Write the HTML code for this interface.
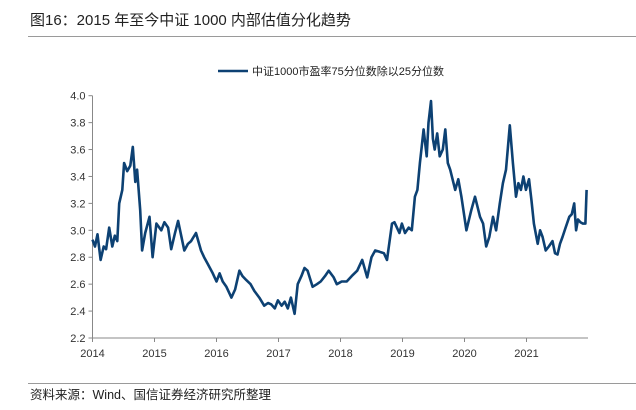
<!DOCTYPE html>
<html><head><meta charset="utf-8">
<style>
html,body{margin:0;padding:0;background:#fff;}
body{width:636px;height:410px;position:relative;overflow:hidden;font-family:"Liberation Sans","Noto Sans CJK SC",sans-serif;}
.title{position:absolute;left:30px;top:9px;font-size:15px;color:#222;}
.hr{position:absolute;left:28px;right:0;height:1px;background:#9a9a9a;}
.src{position:absolute;left:30px;top:384px;font-size:12.5px;color:#222;}
</style></head><body>
<div class="title">图16：2015 年至今中证 1000 内部估值分化趋势</div>
<div class="hr" style="top:36px"></div>
<svg id="chart" width="636" height="410" style="position:absolute;left:0;top:0"></svg>
<div class="hr" style="top:383px"></div>
<div class="src">资料来源：Wind、国信证券经济研究所整理</div>
<script>
const yTicks=[2.2,2.4,2.6,2.8,3.0,3.2,3.4,3.6,3.8,4.0];
const xTicks=[2014,2015,2016,2017,2018,2019,2020,2021];
const seriesName="中证1000市盈率75分位数除以25分位数";
const dates=[2014.0,2014.04,2014.08,2014.13,2014.18,2014.22,2014.27,2014.32,2014.36,2014.4,2014.43,2014.48,2014.51,2014.56,2014.61,2014.65,2014.69,2014.72,2014.77,2014.8,2014.85,2014.92,2014.97,2015.03,2015.11,2015.16,2015.22,2015.27,2015.33,2015.38,2015.43,2015.48,2015.54,2015.59,2015.67,2015.75,2015.8,2015.86,2015.94,2016.0,2016.05,2016.1,2016.16,2016.24,2016.3,2016.37,2016.42,2016.48,2016.55,2016.61,2016.69,2016.77,2016.83,2016.88,2016.94,2016.99,2017.05,2017.1,2017.15,2017.2,2017.26,2017.31,2017.37,2017.42,2017.47,2017.55,2017.62,2017.68,2017.75,2017.81,2017.89,2017.94,2018.02,2018.1,2018.18,2018.27,2018.35,2018.43,2018.5,2018.56,2018.63,2018.7,2018.75,2018.83,2018.87,2018.91,2018.95,2018.99,2019.04,2019.1,2019.15,2019.2,2019.24,2019.28,2019.31,2019.34,2019.39,2019.42,2019.46,2019.49,2019.52,2019.56,2019.6,2019.65,2019.69,2019.73,2019.77,2019.85,2019.9,2019.95,2020.03,2020.11,2020.17,2020.25,2020.3,2020.35,2020.4,2020.46,2020.51,2020.57,2020.62,2020.67,2020.73,2020.78,2020.83,2020.87,2020.91,2020.95,2020.99,2021.04,2021.08,2021.12,2021.18,2021.22,2021.26,2021.31,2021.36,2021.42,2021.46,2021.5,2021.54,2021.58,2021.63,2021.69,2021.73,2021.77,2021.8,2021.83,2021.87,2021.91,2021.95,2021.97];
const values=[2.93,2.88,2.97,2.78,2.88,2.86,3.02,2.88,2.96,2.92,3.2,3.3,3.5,3.44,3.48,3.62,3.36,3.45,3.15,2.85,2.98,3.1,2.8,3.05,3.0,3.06,3.02,2.86,2.98,3.07,2.96,2.85,2.9,2.92,2.98,2.85,2.8,2.75,2.68,2.62,2.68,2.62,2.58,2.5,2.56,2.7,2.66,2.63,2.6,2.55,2.5,2.44,2.46,2.45,2.42,2.48,2.44,2.47,2.42,2.5,2.38,2.6,2.66,2.72,2.7,2.58,2.6,2.62,2.66,2.7,2.65,2.6,2.62,2.62,2.66,2.7,2.78,2.65,2.8,2.85,2.84,2.83,2.78,3.05,3.06,3.02,2.98,3.05,2.98,3.02,3.0,3.25,3.3,3.5,3.62,3.75,3.55,3.8,3.96,3.68,3.6,3.72,3.55,3.6,3.75,3.5,3.45,3.3,3.38,3.25,3.0,3.15,3.25,3.1,3.05,2.88,2.95,3.1,3.0,3.2,3.35,3.45,3.78,3.5,3.25,3.35,3.3,3.4,3.3,3.38,3.22,3.05,2.9,3.0,2.95,2.85,2.88,2.92,2.83,2.82,2.9,2.95,3.02,3.1,3.12,3.2,3.0,3.08,3.06,3.05,3.05,3.3];
const NS="http://www.w3.org/2000/svg";
const svg=document.getElementById('chart');
const X0=92.5,XW=62,Y0=338,YTOP=95.7;
const xs=y=>X0+(y-2014)*XW;
const ys=v=>Y0-(v-2.2)/(4.0-2.2)*(Y0-YTOP);
function mk(t,a){const e=document.createElementNS(NS,t);for(const k in a)e.setAttribute(k,a[k]);svg.appendChild(e);return e;}
let e;
e=mk('line',{x1:X0,y1:YTOP,x2:X0,y2:Y0,stroke:'#888','stroke-width':1});


e=mk('line',{x1:X0,y1:Y0,x2:588,y2:Y0,stroke:'#888','stroke-width':1});


yTicks.forEach(v=>{
 const y=ys(v);
 const t=mk('line',{x1:X0-4,y1:y,x2:X0,y2:y,stroke:'#888'});
 
 
 const l=mk('text',{x:X0-7,y:y+4,'text-anchor':'end','font-size':11,fill:'#333'});
 l.textContent=v.toFixed(1);
 
 
});
xTicks.forEach(v=>{
 const x=xs(v);
 const t=mk('line',{x1:x,y1:Y0,x2:x,y2:Y0+4,stroke:'#888'});
 
 
 const l=mk('text',{x:x,y:Y0+19,'text-anchor':'middle','font-size':11,fill:'#333'});
 l.textContent=String(v);
 
 
});
const pts=dates.map((d,i)=>xs(d).toFixed(1)+','+ys(values[i]).toFixed(1)).join(' ');
e=mk('polyline',{points:pts,fill:'none',stroke:'#0d4173','stroke-width':2.6,'stroke-linejoin':'round'});


e=mk('line',{x1:218,y1:71,x2:248,y2:71,stroke:'#0d4173','stroke-width':2.6});


e=mk('text',{x:252,y:75,'font-size':11,fill:'#222'});
e.textContent=seriesName;


</script>
</body></html>
